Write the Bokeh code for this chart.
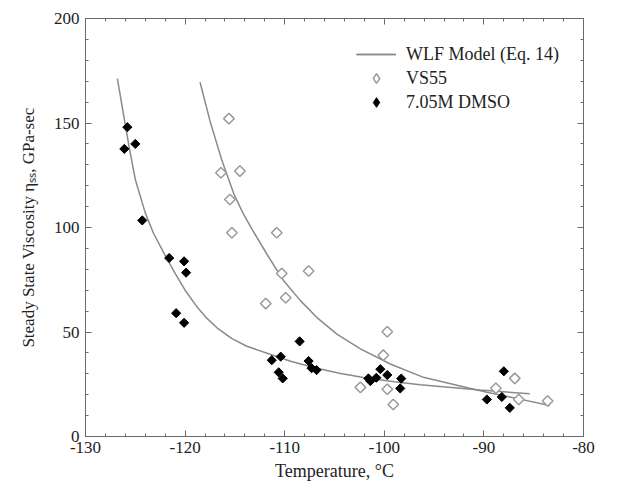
import numpy as np
from bokeh.plotting import figure
from bokeh.models import (Range1d, SingleIntervalTicker, LinearAxis, CustomJSTickFormatter,
                          Legend, LegendItem, ColumnDataSource)
from bokeh.embed import file_html
from bokeh.resources import INLINE

# ---- data ----
dmso_t = [-125.8, -126.1, -125.0, -124.3, -121.6, -120.1, -119.9, -120.9, -120.1,
          -111.3, -110.4, -110.6, -110.2, -108.5, -107.6, -107.3, -106.8,
          -101.6, -101.4, -100.8, -100.4, -99.7, -98.3, -98.4,
          -89.7, -88.0, -88.2, -87.4]
dmso_v = [148.0, 137.6, 140.0, 103.4, 85.4, 83.8, 78.4, 59.0, 54.4,
          36.5, 38.2, 30.7, 27.8, 45.5, 36.1, 32.7, 31.8,
          27.8, 26.5, 28.1, 32.2, 29.4, 27.7, 23.0,
          17.7, 31.2, 18.9, 13.7]

vs55_t = [-115.6, -116.4, -114.5, -115.5, -115.3, -110.8, -110.3, -107.6, -109.9, -111.9,
          -99.7, -100.1, -102.4, -99.7, -99.1, -88.8, -86.9, -86.5, -83.6]
vs55_v = [152.1, 126.2, 127.0, 113.4, 97.5, 97.5, 78.0, 79.2, 66.4, 63.6,
          50.1, 38.9, 23.5, 22.6, 15.3, 23.1, 27.8, 17.7, 17.0]

wlf_dmso_t = [-126.8, -125.6, -125.0, -124.0, -123.15, -122.15, -121.0, -120.0, -118.8,
              -117.8, -116.8, -115.3, -113.8, -111.4, -109.4, -107.1, -104.5, -102.1,
              -99.0, -96.4, -90.4, -85.4]
wlf_dmso_v = [171.2, 138.0, 123.0, 107.0, 97.0, 88.0, 78.0, 70.0, 62.0,
              56.5, 52.0, 46.8, 43.2, 39.2, 36.0, 33.0, 30.3, 28.2,
              26.2, 24.8, 22.3, 20.4]

wlf_vs55_t = [-118.5, -117.5, -116.3, -115.1, -114.2, -113.45, -111.78, -110.1, -108.4,
              -106.76, -104.76, -102.4, -99.4, -96.07, -92.5, -89.7, -86.5, -83.4]
wlf_vs55_v = [169.5, 151.0, 132.0, 116.0, 107.0, 100.5, 87.2, 74.5, 64.9,
              56.9, 49.0, 41.9, 34.7, 28.3, 24.3, 21.2, 18.0, 14.8]

x_ticks = [-130, -120, -110, -100, -90, -80]
x_tick_labels = ["-130", "-120", "-110", "-100", "-90", "-80"]
y_ticks = [0, 50, 100, 150, 200]
y_tick_labels = ["0", "50", "100", "150", "200"]

FONT = "Liberation Serif"
AXC = "#6a6a6a"
LINEC = "#8a8a8a"
TXT = "#222222"

p = figure(width=616, height=491, output_backend="svg", toolbar_location=None,
           x_range=Range1d(-130, -80), y_range=Range1d(0, 200),
           x_axis_label="Temperature, °C",
           y_axis_label="Steady State Viscosity ηₛₛ, GPa-sec",
           min_border_left=85, min_border_right=33, min_border_top=18, min_border_bottom=55)

p.xgrid.visible = False
p.ygrid.visible = False
p.outline_line_color = AXC
p.background_fill_color = "white"
p.border_fill_color = "white"

p.xaxis.ticker = SingleIntervalTicker(interval=10, num_minor_ticks=5)
p.yaxis.ticker = SingleIntervalTicker(interval=50, num_minor_ticks=5)
p.xaxis.major_label_overrides = {t: l for t, l in zip(x_ticks, x_tick_labels)}
p.yaxis.major_label_overrides = {t: l for t, l in zip(y_ticks, y_tick_labels)}

blank = CustomJSTickFormatter(code="return ''")
p.add_layout(LinearAxis(ticker=SingleIntervalTicker(interval=10, num_minor_ticks=5),
                        formatter=blank), "above")
p.add_layout(LinearAxis(ticker=SingleIntervalTicker(interval=50, num_minor_ticks=5),
                        formatter=blank), "right")

for ax in p.axis:
    ax.axis_line_color = AXC
    ax.major_tick_line_color = AXC
    ax.minor_tick_line_color = AXC
    ax.major_tick_in = 6
    ax.major_tick_out = 0
    ax.minor_tick_in = 3
    ax.minor_tick_out = 0
    ax.major_label_text_font = FONT
    ax.major_label_text_font_size = "17px"
    ax.major_label_text_color = TXT
    ax.axis_label_text_font = FONT
    ax.axis_label_text_font_size = "18px"
    ax.axis_label_text_font_style = "normal"
    ax.axis_label_text_color = TXT

p.xaxis[0].major_label_standoff = 8
p.xaxis[0].axis_label_standoff = 5
p.yaxis[0].major_label_standoff = 6
p.yaxis[0].axis_label_standoff = 13
p.yaxis[0].axis_label_text_font_size = "17px"

vs_src = ColumnDataSource(dict(t=vs55_t, v=vs55_v))
dm_src = ColumnDataSource(dict(t=dmso_t, v=dmso_v))

l1 = p.line(wlf_dmso_t, wlf_dmso_v, line_color=LINEC, line_width=1.5)
l2 = p.line(wlf_vs55_t, wlf_vs55_v, line_color=LINEC, line_width=1.5)

# legend-key glyphs (diamond shape as in the reference key); tiny and drawn
# underneath the real markers so they stay hidden in the plot area
k_vs = p.scatter("t", "v", source=vs_src, marker="diamond", size=3, fill_color="white",
                 line_color="#9a9a9a", line_width=1.5)
k_dm = p.scatter("t", "v", source=dm_src, marker="diamond", size=3, fill_color="black",
                 line_color="black", line_width=1)

p.scatter("t", "v", source=vs_src, marker="square", angle=np.pi / 4, size=7.5,
          fill_color="white", line_color="#9a9a9a", line_width=1.5)
p.scatter("t", "v", source=dm_src, marker="square", angle=np.pi / 4, size=6.5,
          fill_color="black", line_color="black", line_width=1)

lg = Legend(items=[LegendItem(label="WLF Model (Eq. 14)", renderers=[l1, l2]),
                   LegendItem(label="VS55", renderers=[k_vs]),
                   LegendItem(label="7.05M DMSO", renderers=[k_dm])],
            location="top_right")
lg.border_line_color = None
lg.background_fill_alpha = 0
lg.label_text_font = FONT
lg.label_text_font_size = "18px"
lg.label_text_color = TXT
lg.glyph_width = 40
lg.glyph_height = 24
lg.spacing = 0
lg.label_standoff = 10
lg.padding = 4
lg.margin = 24
p.add_layout(lg, "center")

open("out.html", "w").write(file_html(p, INLINE))
